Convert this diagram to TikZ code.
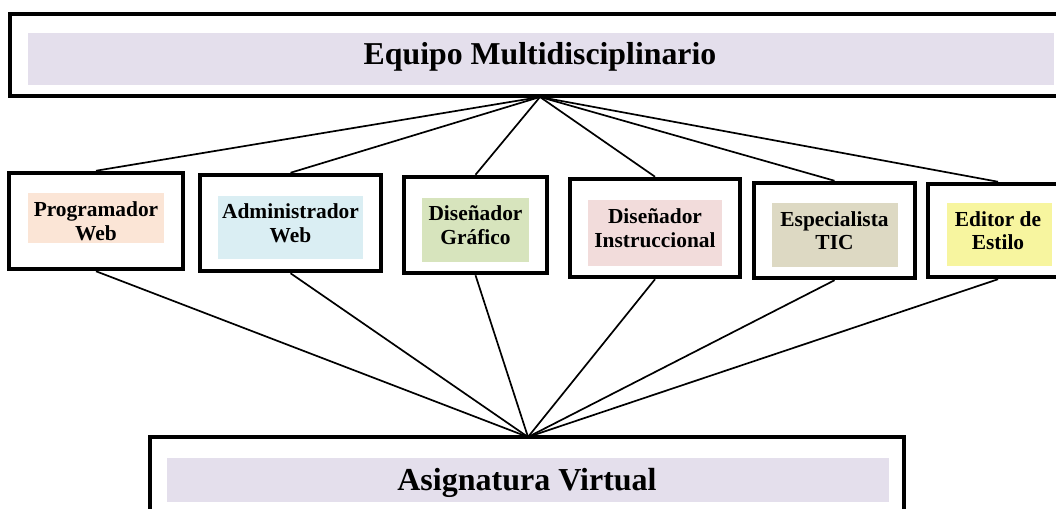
\documentclass[tikz,border=0pt]{standalone}
\usepackage{fontspec}
\setmainfont{Liberation Serif}
\definecolor{lav}{HTML}{E4DFEC}
\definecolor{peach}{HTML}{FBE5D6}
\definecolor{lblue}{HTML}{DAEEF3}
\definecolor{lgreen}{HTML}{D7E4BD}
\definecolor{lpink}{HTML}{F2DCDB}
\definecolor{ltan}{HTML}{DDD9C3}
\definecolor{lyellow}{HTML}{F7F59F}
\begin{document}
\begin{tikzpicture}[x=1pt,y=-1pt,
  framebox/.style={draw=black, line width=4.5pt, rectangle, inner sep=0pt, align=center,
    font=\bfseries\fontsize{21.4}{23.5}\selectfont},
  band/.style={rectangle, inner sep=0pt, draw=none},
  bigtext/.style={anchor=base, inner sep=0pt, font=\bfseries\fontsize{31.8}{36}\selectfont},
  link/.style={draw=black, line width=1.7pt}]
\useasboundingbox (0,0) rectangle (1056,508);
\clip (0,0) rectangle (1056,508);

% top box
\node[band, fill=lav, minimum width=1026pt, minimum height=52pt] (topband) at (541,59) {};
\node[framebox, minimum width=1052pt, minimum height=82pt] (top) at (536,55) {};
\node[bigtext] (toptext) at (540,65) {Equipo Multidisciplinario};

% bottom box
\node[band, fill=lav, minimum width=722pt, minimum height=44pt] (botband) at (528,480) {};
\node[framebox, minimum width=754pt, minimum height=100pt] (bot) at (527,487) {};
\node[bigtext, font=\bfseries\fontsize{32}{36}\selectfont] (bottext) at (527,490) {Asignatura Virtual};

% middle bands
\node[band, fill=peach,  minimum width=136pt, minimum height=50pt] (f1) at (96,218) {};
\node[band, fill=lblue,  minimum width=145pt, minimum height=63pt] (f2) at (290.5,227.5) {};
\node[band, fill=lgreen, minimum width=107pt, minimum height=64pt] (f3) at (475.5,230) {};
\node[band, fill=lpink,  minimum width=134pt, minimum height=66pt] (f4) at (655,233) {};
\node[band, fill=ltan,   minimum width=126pt, minimum height=64pt] (f5) at (835,235) {};
\node[band, fill=lyellow,minimum width=105pt, minimum height=63pt] (f6) at (999.5,234.5) {};

% middle boxes
\node[framebox, minimum width=174pt, minimum height=96pt] (b1) at (96,221) {Programador\\Web};
\node[framebox, minimum width=181pt, minimum height=96pt] (b2) at (290.5,223) {Administrador\\Web};
\node[framebox, minimum width=143pt, minimum height=96pt] (b3) at (475.5,225) {Diseñador\\Gráfico};
\node[framebox, minimum width=170pt, minimum height=98pt] (b4) at (655,228) {Diseñador\\Instruccional};
\node[framebox, minimum width=161pt, minimum height=95pt] (b5) at (834.5,230.5) {Especialista\\TIC};
\node[framebox, minimum width=140pt, minimum height=93pt] (b6) at (998,230.5) {Editor de\\Estilo};

% hubs
\coordinate (hubT) at (540,97);
\coordinate (hubB) at (528,437);

\foreach \b in {b1,b2,b3,b4,b5,b6}{
  \draw[link] (hubT) -- (\b.north);
  \draw[link] (\b.south) -- (hubB);
}
\end{tikzpicture}
\end{document}
